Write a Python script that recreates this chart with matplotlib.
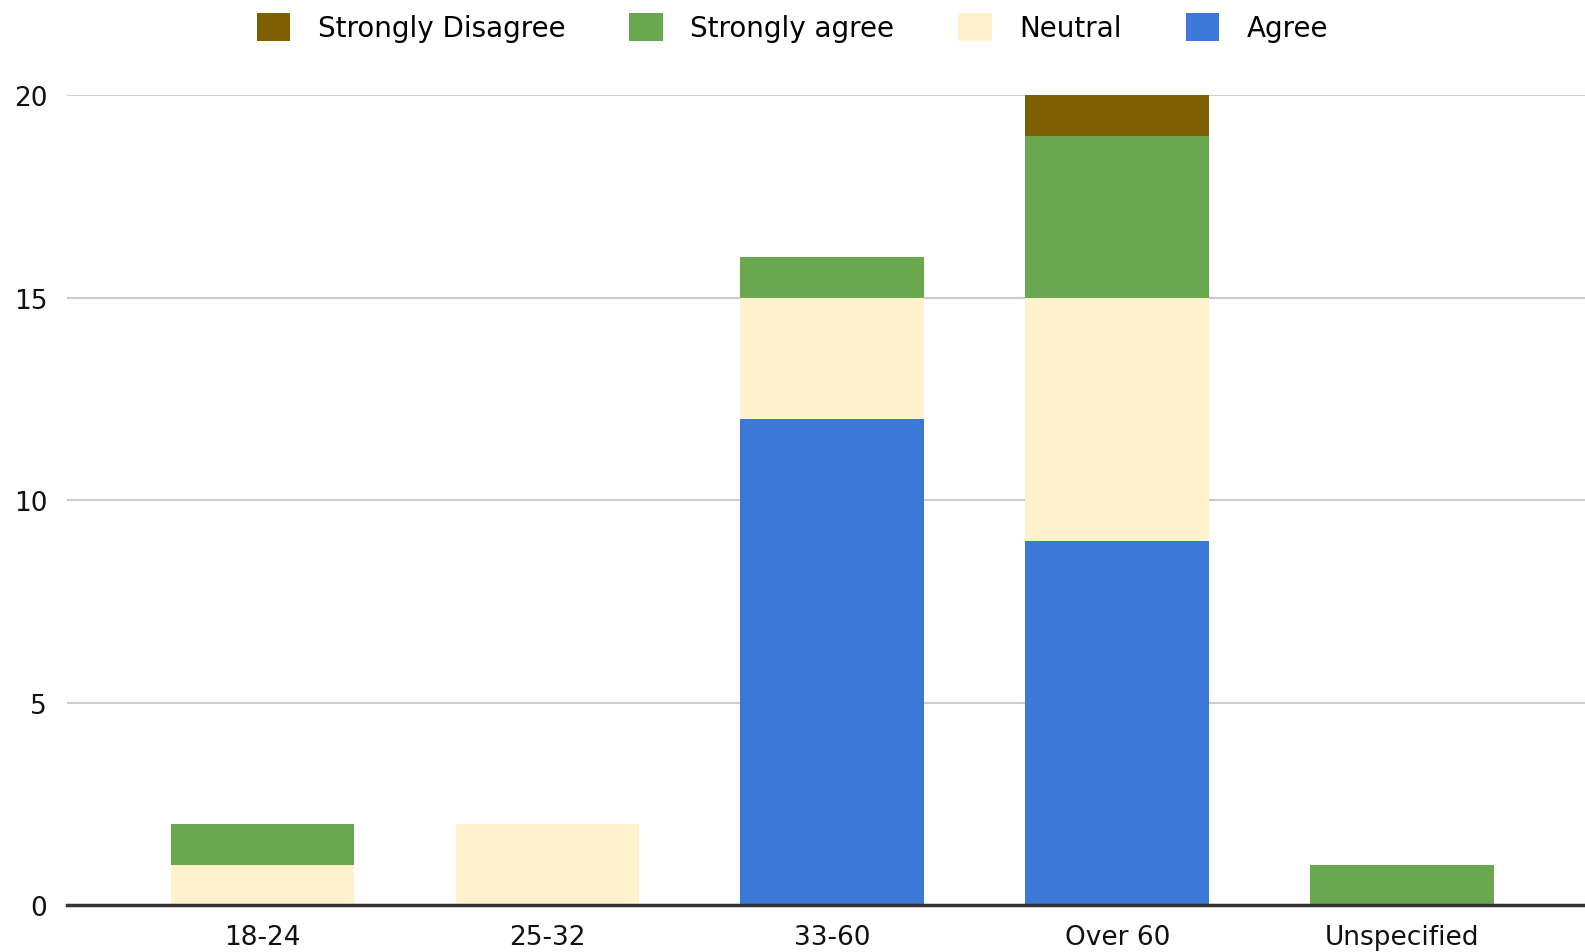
import matplotlib.pyplot as plt
import numpy as np

groups = ["18-24", "25-32", "33-60", "Over 60", "Unspecified"]
agree = [0, 0, 12, 9, 0]
neutral = [1, 2, 3, 6, 0]
strongly_agree = [1, 0, 1, 4, 1]
strongly_disagree = [0, 0, 0, 1, 0]

series = [
    ("Agree", agree, "#3c78d8"),
    ("Neutral", neutral, "#fff2cc"),
    ("Strongly agree", strongly_agree, "#6aa84f"),
    ("Strongly Disagree", strongly_disagree, "#7f6000"),
]

plt.rcParams["font.family"] = ["DejaVu Sans"]

fig = plt.figure(figsize=(15.85, 9.53), dpi=100)
ax = fig.add_axes([0.042, 0.0493, 0.958, 0.8497])

x = np.arange(len(groups))
bottom = np.zeros(len(groups))
handles = {}
for name, vals, color in series:
    bars = ax.bar(x, vals, width=0.645, bottom=bottom, color=color, label=name, zorder=2)
    handles[name] = bars
    bottom += np.array(vals)

ax.set_xlim(-0.688, 4.642)
ax.set_ylim(0, 20)
ax.set_yticks([0, 5, 10, 15, 20])
ax.set_xticks(x)
ax.set_xticklabels(groups)
ax.tick_params(axis="both", length=0, labelsize=19, colors="#111111")
ax.tick_params(axis="y", pad=14)
ax.tick_params(axis="x", pad=14)
ax.grid(axis="y", color="#cccccc", linewidth=1.5, zorder=0)
for side in ["top", "right", "left"]:
    ax.spines[side].set_visible(False)
ax.spines["bottom"].set_color("#333333")
ax.spines["bottom"].set_linewidth(2.5)
ax.spines["bottom"].set_zorder(3)

order = ["Strongly Disagree", "Strongly agree", "Neutral", "Agree"]
fig.legend([handles[n] for n in order], order, loc="upper center",
           bbox_to_anchor=(0.5, 1.012), ncol=4, frameon=False, fontsize=20,
           handlelength=1.2, handleheight=1.2, columnspacing=2.3, handletextpad=1.0)

fig.savefig("out.png", dpi=100)
